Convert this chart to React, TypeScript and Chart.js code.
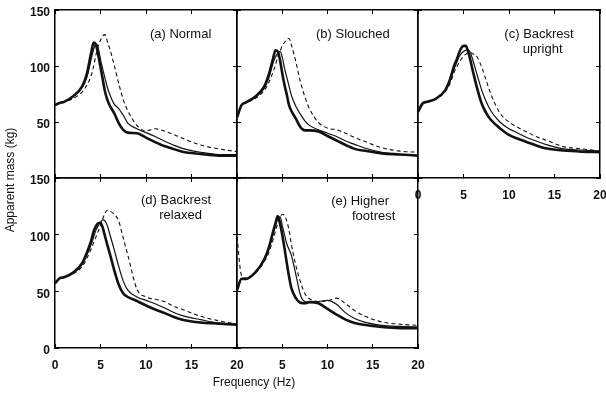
import React, { useEffect, useRef } from 'react';
import { Chart, registerables } from 'chart.js';

Chart.register(...registerables);

const FONT = "'Liberation Sans', Arial, Helvetica, sans-serif";

// Frequency grid (Hz)
const freq = [0, 0.5, 1, 2, 3, 3.5, 4, 4.25, 4.5, 4.75, 5, 5.25, 5.5, 5.75, 6, 6.5, 7, 7.5, 8, 9, 10, 11, 12, 13, 14, 16, 18, 20];

// Axis ticks
const freqTicks = [0, 5, 10, 15, 20];
const massTicks = [0, 50, 100, 150];

// (a) Normal
const normalThick = [65, 67, 68, 73, 82, 93, 113, 121, 119, 110, 99, 88, 77, 70, 65, 58, 49, 43, 40.5, 40, 36, 32, 28.5, 26, 23.5, 21.5, 20, 20];
const normalThin = [65, 67, 68, 73, 81, 90, 107, 115, 120, 116, 106, 97, 89, 81, 75, 66, 62, 56, 49, 44, 40.5, 37, 33, 29.5, 26.5, 23, 21, 21];
const normalDashed = [65, 67, 68, 71, 77, 83, 92, 100, 110, 118, 123, 127, 128, 122, 116, 101, 84.5, 70, 60, 47, 42, 44, 42, 39, 35.5, 29.5, 26, 23.5];

// (b) Slouched
const slouchedThick = [54, 65, 67.5, 72.5, 81.5, 92, 107, 114, 113, 105.5, 93.5, 83, 74.5, 65, 60, 53, 45.5, 42.5, 42.5, 41.5, 37.5, 33.5, 29.5, 26, 24.5, 22, 21, 20];
const slouchedThin = [54, 65, 67.5, 72, 80, 89, 103, 108, 111, 113, 108, 98, 90, 82, 74, 64, 57, 51, 47, 43, 40, 37, 33, 30, 27, 23, 21, 20];
const slouchedDashed = [54, 65, 67, 71, 78, 85, 95, 101, 108, 113, 118, 121, 124, 124.5, 119, 104, 86, 72.5, 62, 49.5, 44.5, 43, 40, 36, 33, 27, 24, 23];

// (c) Backrest upright
const uprightThick = [59, 66.5, 68, 71, 78.5, 87.5, 101, 105.5, 111.5, 116, 118, 118, 113, 105.5, 96.5, 80, 66.5, 58, 52, 44.5, 38.5, 35, 32, 29, 26.5, 24.5, 23.5, 23];
const uprightThin = [59, 66.5, 68, 71, 78, 86, 98, 103, 108, 111, 113, 114, 114.5, 112, 106, 92, 78.5, 68, 60, 50, 44, 40, 36, 33, 30, 26, 25, 24];
const uprightDashed = [59, 66, 67.5, 70.5, 77, 84, 95, 99, 103, 106, 109, 110.5, 112, 112, 111, 108, 99, 87, 75, 58, 50, 45, 41, 37, 34, 28, 26, 24];

// (d) Backrest relaxed
const relaxedThick = [57, 61.5, 62.5, 66.5, 75, 84, 95.5, 103, 107.5, 110, 110.5, 106, 98.5, 91, 84, 69, 56, 48, 45, 41.5, 37.5, 34, 31, 27.5, 25, 22.5, 21.5, 20.5];
const relaxedThin = [57, 61.5, 62.5, 66, 74, 82, 92, 98, 104, 108, 111, 113, 112, 108, 101, 87, 72, 59, 51, 45, 42, 39, 35.5, 31.5, 28.5, 25, 22, 21];
const relaxedDashed = [57, 61, 62, 65.5, 72, 79, 88, 93, 98, 103, 108, 114, 119, 121.5, 121, 118, 112, 97, 82, 52, 45, 43, 41, 37, 34, 28, 24, 21];

// (e) Higher footrest
const footrestThick = [51, 61, 61, 66.5, 78, 88, 103, 110, 116.5, 110, 100, 88, 75, 63, 53, 44, 40, 39.5, 40.5, 39.5, 34.5, 29.5, 25, 22, 20.5, 18.5, 17.5, 17.5];
const footrestThin = [51, 61, 61, 66.5, 77.5, 87, 101, 108, 114, 116, 108, 100, 92, 87, 82, 65, 47, 41, 40.5, 41, 42, 38.5, 31, 26, 23, 20, 19, 18.5];
const footrestDashed = [98, 64, 61.5, 66, 76, 84, 96, 103, 110, 115, 118, 117, 112, 104, 92, 73, 58.5, 48, 43.5, 41, 41.5, 44, 39, 33, 28.5, 23, 21, 20];

// Panel captions
const captions = [
  ['(a) Normal'],
  ['(b) Slouched'],
  ['(c) Backrest', 'upright'],
  ['(d) Backrest', 'relaxed'],
  ['(e) Higher', 'footrest'],
];

const yTitle = 'Apparent mass (kg)';
const xTitle = 'Frequency (Hz)';

type Panel = {
  series: number[][];
  caption: string[];
  capPos: [number, number][];
  rect: [number, number, number, number];
  xLabels: boolean;
  hideX0: boolean;
  yLabels: boolean;
  hideY0: boolean;
  titles: boolean;
};

const panels: Panel[] = [
  { series: [normalThick, normalThin, normalDashed], caption: captions[0], capPos: [[13.8, 128]], rect: [55, 237, 10, 178], xLabels: false, hideX0: false, yLabels: true, hideY0: true, titles: false },
  { series: [slouchedThick, slouchedThin, slouchedDashed], caption: captions[1], capPos: [[12.8, 128]], rect: [237, 418, 10, 178], xLabels: false, hideX0: false, yLabels: false, hideY0: false, titles: false },
  { series: [uprightThick, uprightThin, uprightDashed], caption: captions[2], capPos: [[13.3, 128], [13.7, 114.5]], rect: [418, 600, 10, 178], xLabels: true, hideX0: false, yLabels: false, hideY0: false, titles: false },
  { series: [relaxedThick, relaxedThin, relaxedDashed], caption: captions[3], capPos: [[13.3, 130.5], [13.8, 117]], rect: [55, 237, 178, 348], xLabels: true, hideX0: false, yLabels: true, hideY0: false, titles: true },
  { series: [footrestThick, footrestThin, footrestDashed], caption: captions[4], capPos: [[13.6, 129.5], [15.1, 116.5]], rect: [237, 418, 178, 348], xLabels: true, hideX0: true, yLabels: false, hideY0: false, titles: false },
];

const lineStyles = [
  { borderWidth: 2.6, borderDash: [] as number[] },
  { borderWidth: 1.2, borderDash: [] as number[] },
  { borderWidth: 1.1, borderDash: [4, 3] },
];

const W = 606;
const H = 394;

function fixBox(s: any, w: number | null, h: number | null) {
  if (w !== null) s.width = w;
  if (h !== null) s.height = h;
  s.paddingTop = 0;
  s.paddingBottom = 0;
  s.paddingLeft = 0;
  s.paddingRight = 0;
}

function buildScales(p: Panel) {
  const [L, R, T, B] = p.rect;
  const tickFont = { family: FONT, size: 12, weight: 'bold' as const };
  const grid = { drawOnChartArea: false, drawTicks: true, tickLength: -4, color: '#000', lineWidth: 1 };
  const border = { display: true, color: '#000', width: 1.5 };
  const xCommon = { type: 'linear' as const, min: freqTicks[0], max: freqTicks[freqTicks.length - 1], grid, border };
  const yCommon = { type: 'linear' as const, min: massTicks[0], max: massTicks[massTicks.length - 1], grid, border };
  return {
    x: {
      ...xCommon, position: 'bottom' as const, afterFit: (s: any) => fixBox(s, null, H - B),
      ticks: {
        stepSize: 5, display: p.xLabels, padding: 14, font: tickFont, color: '#111', maxRotation: 0, autoSkip: false,
        callback: (v: any) => (p.hideX0 && Number(v) === 0 ? '' : String(v)),
      },
    },
    x2: { ...xCommon, position: 'top' as const, afterFit: (s: any) => fixBox(s, null, T), ticks: { stepSize: 5, display: false } },
    y: {
      ...yCommon, position: 'left' as const, afterFit: (s: any) => fixBox(s, L, null),
      ticks: {
        stepSize: 50, display: p.yLabels, padding: 9, labelOffset: 3, font: tickFont, color: '#111', autoSkip: false,
        callback: (v: any) => (p.hideY0 && Number(v) === 0 ? '' : String(v)),
      },
    },
    y2: { ...yCommon, position: 'right' as const, afterFit: (s: any) => fixBox(s, W - R, null), ticks: { stepSize: 50, display: false } },
  };
}

function PanelChart({ p }: { p: Panel }) {
  const ref = useRef<HTMLCanvasElement | null>(null);
  useEffect(() => {
    if (!ref.current) return;
    const captionPlugin = {
      id: 'caption',
      afterDraw(chart: any) {
        const ctx = chart.ctx;
        const xs = chart.scales.x;
        const ys = chart.scales.y;
        ctx.save();
        ctx.fillStyle = '#111';
        ctx.font = `13px ${FONT}`;
        ctx.textAlign = 'center';
        ctx.textBaseline = 'middle';
        p.caption.forEach((line, i) => {
          const [f, v] = p.capPos[i];
          ctx.fillText(line, xs.getPixelForValue(f), ys.getPixelForValue(v));
        });
        if (p.titles) {
          ctx.font = `12px ${FONT}`;
          ctx.fillText(xTitle, 254, 383);
          ctx.translate(11, 180);
          ctx.rotate(-Math.PI / 2);
          ctx.fillText(yTitle, 0, 0);
        }
        ctx.restore();
      },
    };
    const chart = new Chart(ref.current, {
      type: 'line',
      data: {
        datasets: p.series.map((arr, k) => ({
          data: freq.map((f, i) => ({ x: f, y: arr[i] })),
          borderColor: '#111',
          borderWidth: lineStyles[k].borderWidth,
          borderDash: lineStyles[k].borderDash,
          pointRadius: 0,
          fill: false,
          cubicInterpolationMode: 'monotone' as const,
          xAxisID: 'x',
          yAxisID: 'y',
        })),
      },
      options: {
        responsive: false,
        animation: false,
        devicePixelRatio: 1,
        layout: { padding: 0 },
        plugins: { legend: { display: false }, tooltip: { enabled: false }, title: { display: false } },
        events: [],
        scales: buildScales(p) as any,
      },
      plugins: [captionPlugin],
    });
    return () => chart.destroy();
  }, [p]);
  return (
    <canvas
      ref={ref}
      width={W}
      height={H}
      style={{ position: 'absolute', left: 0, top: 0, width: W, height: H }}
    />
  );
}

export default function App() {
  return (
    <div style={{ position: 'fixed', left: 0, top: 0, width: W, height: H, background: '#fff', overflow: 'hidden' }}>
      {panels.map((p, i) => (
        <PanelChart key={i} p={p} />
      ))}
    </div>
  );
}
